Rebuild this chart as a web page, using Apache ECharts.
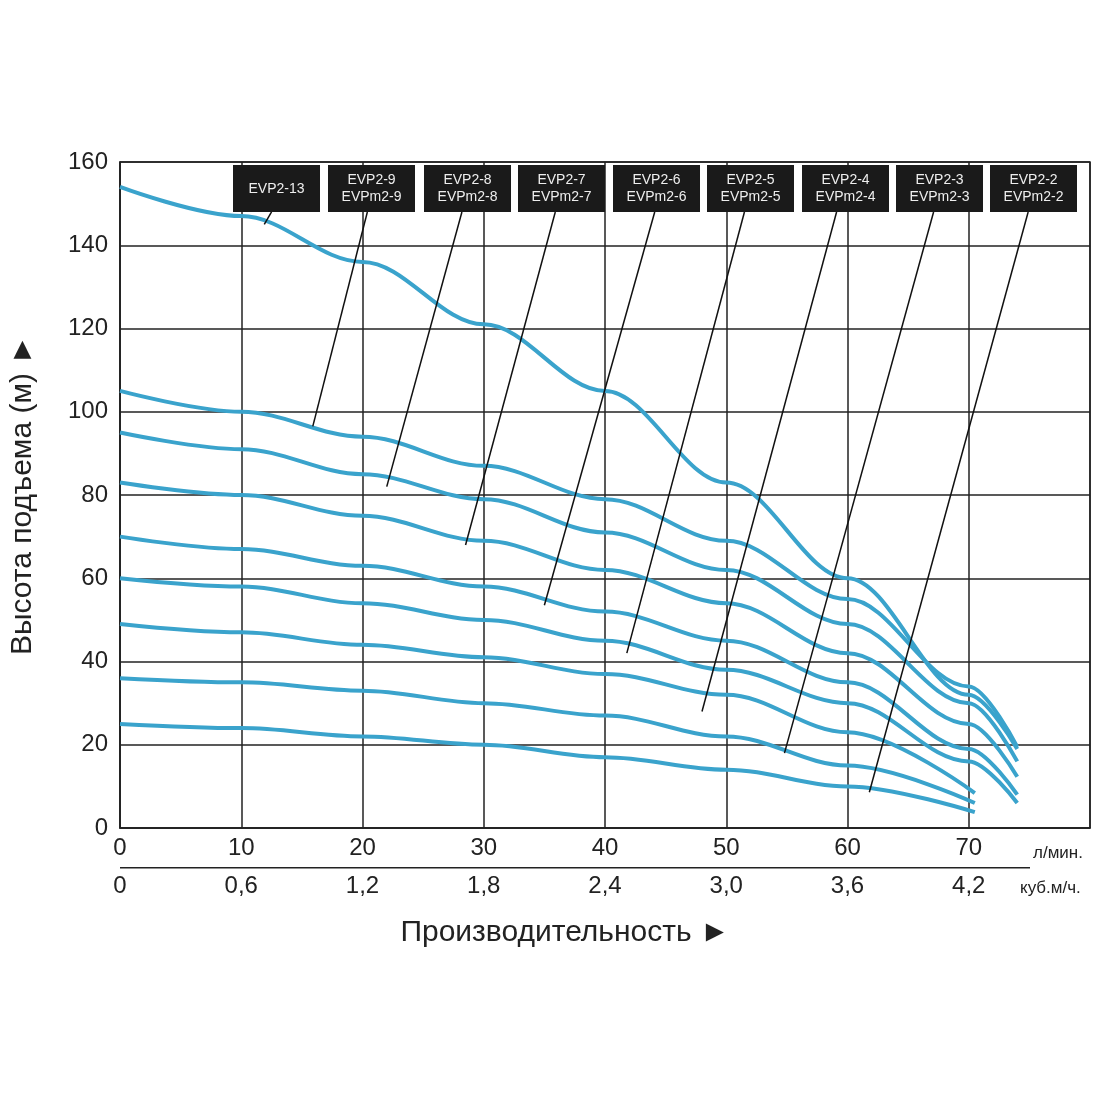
<!DOCTYPE html>
<html>
<head>
<meta charset="utf-8">
<script src="https://cdn.jsdelivr.net/npm/echarts@6/dist/echarts.min.js"></script>
<style>html,body{margin:0;background:#fff}#chart{width:1100px;height:1100px}</style>
</head>
<body>
<div id="chart"></div>
<script>
// расход, л/мин
var flow = [0, 10, 20, 30, 40, 50, 60, 70, 74];
var flowShort = [0, 10, 20, 30, 40, 50, 60, 70.5];
var models = ['EVP2-13', 'EVP2-9', 'EVP2-8', 'EVP2-7', 'EVP2-6', 'EVP2-5', 'EVP2-4', 'EVP2-3', 'EVP2-2'];
var labels = ['EVP2-13', 'EVP2-9\nEVPm2-9', 'EVP2-8\nEVPm2-8', 'EVP2-7\nEVPm2-7', 'EVP2-6\nEVPm2-6',
    'EVP2-5\nEVPm2-5', 'EVP2-4\nEVPm2-4', 'EVP2-3\nEVPm2-3', 'EVP2-2\nEVPm2-2'];
// напор, м
var head = [
    [154, 147, 136, 121, 105, 83, 60, 32, 19],
    [105, 100, 94, 87, 79, 69, 55, 34, 19.5],
    [95, 91, 85, 79, 71, 62, 49, 30, 16],
    [83, 80, 75, 69, 62, 54, 42, 25, 12.3],
    [70, 67, 63, 58, 52, 45, 35, 19, 8],
    [60, 58, 54, 50, 45, 38, 30, 16, 6],
    [49, 47, 44, 41, 37, 32, 23, 8.4],
    [36, 35, 33, 30, 27, 22, 15, 6],
    [25, 24, 22, 20, 17, 14, 10, 3.8]
];
// выноски: [от подписи, к кривой] в единицах осей
var leaders = [
    [[12.5, 148], [11.9, 145]],
    [[20.4, 148], [15.9, 96.5]],
    [[28.2, 148], [22, 82]],
    [[35.9, 148], [28.5, 68]],
    [[44.1, 148], [35, 53.5]],
    [[51.5, 148], [41.8, 42]],
    [[59.1, 148], [48, 28]],
    [[67.1, 148], [54.8, 18]],
    [[74.9, 148], [61.8, 8.6]]
];
var boxLeft = [233, 328, 424, 518, 613, 707, 802, 896, 990];

var chart = echarts.init(document.getElementById('chart'));
var series = models.map(function (m, i) {
    var xs = i >= 6 ? flowShort : flow;
    return {
        name: m, type: 'line', smooth: 0.35, smoothMonotone: 'x', symbol: 'none', z: 3,
        lineStyle: { color: '#3aa3cc', width: 4 },
        data: head[i].map(function (v, j) { return [xs[j], v]; })
    };
});
series.push({
    type: 'lines', coordinateSystem: 'cartesian2d', z: 4,
    lineStyle: { color: '#111', width: 1.5, opacity: 1 },
    data: leaders.map(function (l) { return { coords: l }; })
});

var graphic = [];
labels.forEach(function (t, i) {
    graphic.push({
        type: 'rect', left: boxLeft[i], top: 165, z: 10,
        shape: { width: 87, height: 47 }, style: { fill: '#1a1a1a' }
    });
    graphic.push({
        type: 'text', x: boxLeft[i] + 43.5, y: 189, z: 11,
        style: { text: t, fill: '#eee', font: '14px Liberation Sans', textAlign: 'center', textVerticalAlign: 'middle', lineHeight: 17 }
    });
});
graphic.push({ type: 'text', left: 1033, top: 845, style: { text: 'л/мин.', fill: '#222', font: '17px Liberation Sans' } });
graphic.push({ type: 'text', left: 1020, top: 880, style: { text: 'куб.м/ч.', fill: '#222', font: '17px Liberation Sans' } });
graphic.push({ type: 'rect', left: 120, top: 867, shape: { width: 910, height: 1.5 }, style: { fill: '#222' } });

var axisLab = { color: '#222', fontSize: 24, fontFamily: 'Liberation Sans' };
chart.setOption({
    animation: false,
    grid: { left: 120, right: 10, top: 162, bottom: 272, show: true, borderColor: '#222', borderWidth: 1.5 },
    graphic: graphic,
    xAxis: [{
        type: 'value', min: 0, max: 80, interval: 10,
        axisLine: { lineStyle: { color: '#222', width: 1.5 } }, axisTick: { show: false },
        splitLine: { lineStyle: { color: '#222', width: 1.5 } },
        axisLabel: Object.assign({}, axisLab, { margin: 8, formatter: function (v) { return v === 80 ? '' : v; } }),
        name: 'Производительность ►', nameLocation: 'middle', nameGap: 90,
        nameTextStyle: { color: '#222', fontSize: 30, fontFamily: 'Liberation Sans', padding: [0, 80, 0, 0] }
    }, {
        type: 'value', position: 'bottom', offset: 38, min: 0, max: 80, interval: 10,
        axisLine: { show: false }, axisTick: { show: false }, splitLine: { show: false },
        axisLabel: Object.assign({}, axisLab, { formatter: function (v) {
            if (v === 80) return '';
            return v === 0 ? '0' : (v * 0.06).toFixed(1).replace('.', ',');
        } })
    }],
    yAxis: {
        type: 'value', min: 0, max: 160, interval: 20,
        axisLine: { show: true, lineStyle: { color: '#222', width: 1.5 } }, axisTick: { show: false },
        splitLine: { lineStyle: { color: '#222', width: 1.5 } },
        axisLabel: Object.assign({}, axisLab, { margin: 12 }),
        name: 'Высота подъема (м) ►', nameLocation: 'middle', nameGap: 82, nameRotate: 90,
        nameTextStyle: { color: '#222', fontSize: 30, fontFamily: 'Liberation Sans' }
    },
    series: series
});
</script>
</body>
</html>
